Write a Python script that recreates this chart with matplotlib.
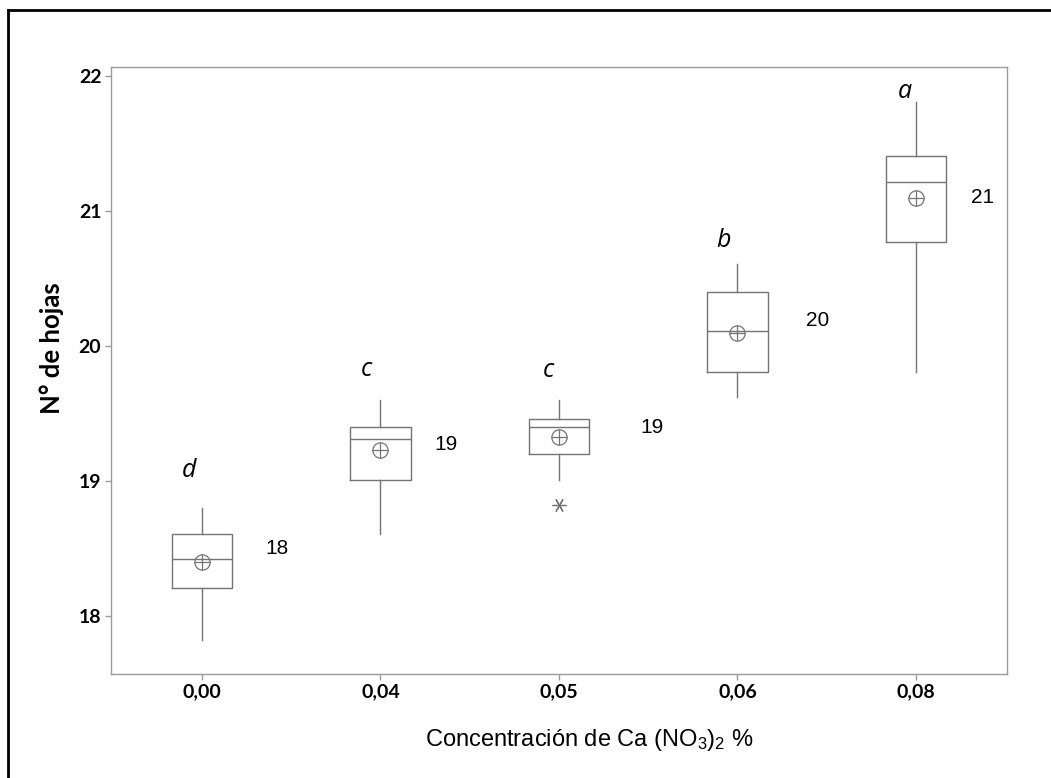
import matplotlib
matplotlib.use("Agg")
import matplotlib.pyplot as plt
from matplotlib.lines import Line2D

# ---- data ----
categories = ["0,00", "0,04", "0,05", "0,06", "0,08"]
medians = [18.42, 19.31, 19.40, 20.11, 21.22]
q1 = [18.21, 19.01, 19.20, 19.81, 20.77]
q3 = [18.61, 19.40, 19.46, 20.40, 21.41]
whislo = [17.82, 18.61, 19.01, 19.62, 19.81]
whishi = [18.80, 19.60, 19.60, 20.61, 21.81]
means = [18.40, 19.23, 19.33, 20.10, 21.10]
outliers = [[], [], [18.82], [], []]
letters = ["d", "c", "c", "b", "a"]
letter_y = [19.08, 19.83, 19.82, 20.78, 21.89]
value_labels = ["18", "19", "19", "20", "21"]
value_y = [18.50, 19.27, 19.40, 20.19, 21.10]
yticks = [18, 19, 20, 21, 22]

plt.rcParams['mathtext.fontset'] = 'custom'
plt.rcParams['mathtext.rm'] = 'Liberation Sans'
plt.rcParams['mathtext.it'] = 'Liberation Sans:italic'
plt.rcParams['mathtext.bf'] = 'Liberation Sans:bold'

gray = '#747474'
spine_gray = '#9a9a9a'

fig = plt.figure(figsize=(10.51, 7.78), dpi=100)
ax = fig.add_axes([0.1056, 0.1337, 0.958 - 0.1056, 0.9139 - 0.1337])

positions = list(range(1, len(categories) + 1))
stats = []
for i in range(len(categories)):
    stats.append(dict(med=medians[i], q1=q1[i], q3=q3[i], whislo=whislo[i],
                      whishi=whishi[i], mean=means[i], fliers=outliers[i]))

lp = dict(color=gray, linewidth=1.0)
ax.bxp(stats, positions=positions, widths=0.34, showcaps=False, showmeans=False,
       showfliers=True,
       boxprops=lp, whiskerprops=lp, medianprops=lp,
       flierprops=dict(marker=(6, 2, 30), markeredgecolor=gray, markersize=10,
                       markeredgewidth=0.9, linestyle='none'))

ax.plot(positions, means, linestyle='none', marker='o', markersize=11,
        markerfacecolor='none', markeredgecolor=gray, markeredgewidth=0.9)
ax.plot(positions, means, linestyle='none', marker='+', markersize=11,
        markeredgecolor=gray, markeredgewidth=0.9)

letter_dx = [-0.07, -0.08, -0.06, -0.08, -0.06]
value_x = [1.42, 2.37, 3.52, 4.45, 5.375]
for i in range(len(categories)):
    ax.text(positions[i] + letter_dx[i], letter_y[i], letters[i], ha='center', va='center',
            fontsize=18, style='italic', family='Open Sans', color='black')
    t = ax.text(value_x[i], value_y[i], value_labels[i], ha='center', va='center',
                fontsize=15, family='Liberation Sans', color='black', zorder=5, clip_on=False)
    if i == len(categories) - 1:
        t.set_bbox(dict(facecolor='white', edgecolor='none', pad=6))

ax.set_xlim(0.49, 5.51)
ax.set_ylim(17.57, 22.07)
ax.set_xticks(positions)
ax.set_xticklabels(categories, family='Lato', fontsize=14, fontweight='bold')
ax.set_yticks(yticks)
ax.set_yticklabels([str(v) for v in yticks], family='Lato', fontsize=14, fontweight='bold')
ax.tick_params(direction='out', length=4, width=1, color=spine_gray, labelcolor='black', pad=3)
for s in ax.spines.values():
    s.set_color(spine_gray)
    s.set_linewidth(1.0)

fig.text(52 / 1051, 1 - 348 / 778, "N° de hojas", rotation=90, ha='center', va='center',
         fontsize=18.5, fontweight='bold', family='Lato')
fig.text(589 / 1051, 1 - 740 / 778, "Concentración de Ca (NO$_{3}$)$_{2}$ %", ha='center', va='center',
         fontsize=17, family='Liberation Sans')

# outer frame (top and left visible)
fig.add_artist(Line2D([8 / 1051, 8 / 1051], [0, 1 - 10 / 778], transform=fig.transFigure,
                      color='black', linewidth=2))
fig.add_artist(Line2D([8 / 1051, 1], [1 - 10 / 778, 1 - 10 / 778], transform=fig.transFigure,
                      color='black', linewidth=2))

fig.savefig("out.png", dpi=100)
